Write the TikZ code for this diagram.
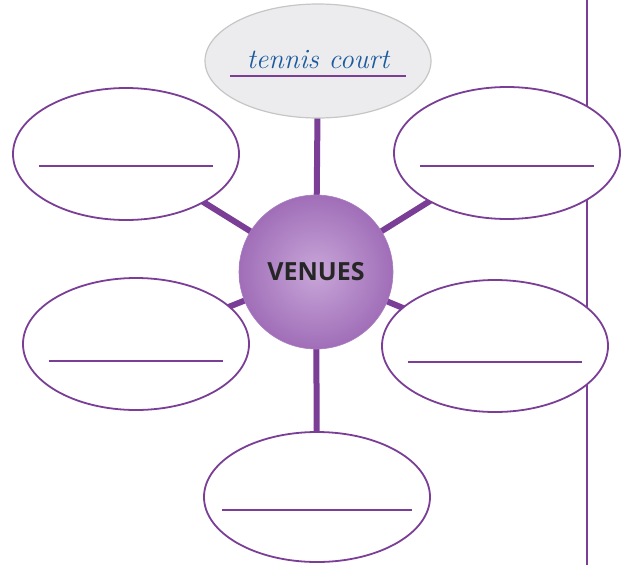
\documentclass[tikz,border=0pt]{standalone}
\usepackage{fontspec}
\usepackage{xcolor}
\usetikzlibrary{shapes.geometric,backgrounds}
\newfontfamily\venuefont{Open Sans}
\definecolor{venpurple}{HTML}{7A3E96}
\definecolor{venin}{HTML}{C8A6D8}
\definecolor{venout}{HTML}{A06EB8}
\definecolor{venblue}{HTML}{1A5A9E}
\definecolor{vengray}{HTML}{ECECEE}

\begin{document}
\begin{tikzpicture}[
  x=1pt, y=-1pt,
  blankbox/.style={draw=venpurple, line width=1.8pt, fill=white,
                   ellipse, inner sep=0pt,
                   minimum width=226pt, minimum height=132pt},
  samplebox/.style={draw=gray!45, line width=1.2pt, fill=vengray,
                    ellipse, inner sep=0pt,
                    minimum width=226pt, minimum height=114pt},
  hubnode/.style={circle, inner sep=0pt, minimum size=154pt,
                  inner color=venin, outer color=venout,
                  draw=venout!90, line width=0.6pt},
  spoke/.style={draw=venpurple, line width=6pt},
  writeline/.style={draw=venpurple, line width=1.3pt}
]
\useasboundingbox (0,0) rectangle (631,565);
%--- Margin rule on the right ------------------------------------------------
\draw[venpurple, line width=2.6pt] (587,0) -- (587,565);
%--- Hub ---------------------------------------------------------------------
\node[hubnode] (hub) at (316,272) {%
  \venuefont\bfseries\fontsize{25}{30}\selectfont\color{black!85}VENUES%
};
%--- Answer ovals ------------------------------------------------------------
\node[samplebox] (top) at (318,61) {};
\node[blankbox] (topleft)  at (126,154) {};
\node[blankbox] (topright) at (507,153) {};
\node[blankbox] (midleft)  at (136,344) {};
\node[blankbox] (midright) at (495,346) {};
\node[blankbox, minimum height=130pt] (bottom) at (317,497) {};
%--- Sample answer -----------------------------------------------------------
\node[text=venblue, font=\itshape\fontsize{28}{30}\selectfont,
      anchor=base] (sample) at (318,68) {tennis court};
\draw[writeline] ([xshift=-88pt]top.center |- 0,76) -- ++(176,0);
%--- Writing lines -----------------------------------------------------------
\draw[writeline] ([xshift=-87pt,yshift=-12pt]topleft.center)  -- ++(174,0);
\draw[writeline] ([xshift=-87pt,yshift=-13pt]topright.center) -- ++(174,0);
\draw[writeline] ([xshift=-87pt,yshift=-17pt]midleft.center)  -- ++(174,0);
\draw[writeline] ([xshift=-87pt,yshift=-16pt]midright.center) -- ++(174,0);
\draw[writeline] ([xshift=-95pt,yshift=-13pt]bottom.center)   -- ++(190,0);
%--- Spokes ------------------------------------------------------------------
\begin{scope}[on background layer]
\draw[spoke] (hub.center) -- (top.center);
\draw[spoke] (hub.center) -- (topleft.center);
\draw[spoke] (hub.center) -- (topright.center);
\draw[spoke] (hub.center) -- (midleft.center);
\draw[spoke] (hub.center) -- (midright.center);
\draw[spoke] (hub.center) -- (bottom.center);
\end{scope}
\end{tikzpicture}
\end{document}
